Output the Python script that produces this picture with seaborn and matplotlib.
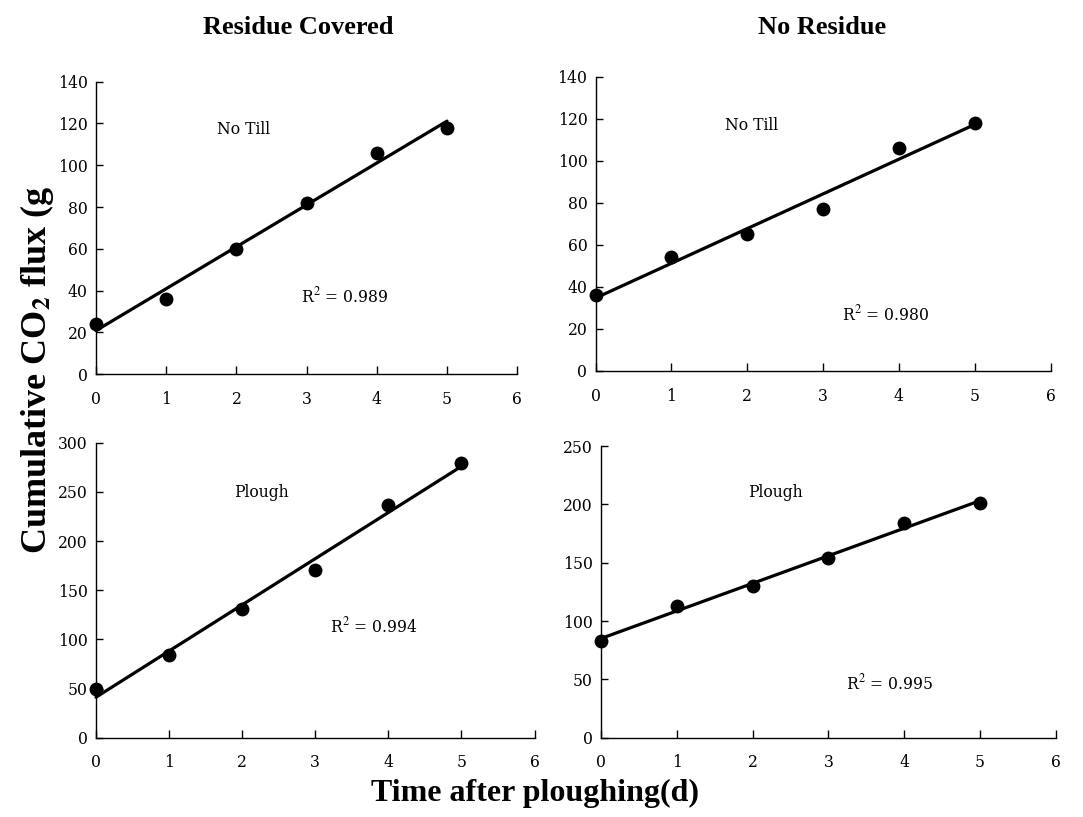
import matplotlib
matplotlib.use("Agg")
import matplotlib.pyplot as plt
import seaborn as sns
import pandas as pd

# ---- data ----
days = [0, 1, 2, 3, 4, 5]
rc_notill = [24, 36, 60, 82, 106, 118]
nr_notill = [36, 54, 65, 77, 106, 118]
rc_plough = [50, 84, 131, 171, 237, 279]
nr_plough = [83, 113, 130, 154, 184, 201]

col_titles = ["Residue Covered", "No Residue"]
panel_labels = ["No Till", "No Till", "Plough", "Plough"]
r2_labels = ["0.989", "0.980", "0.994", "0.995"]
x_ticks = [0, 1, 2, 3, 4, 5, 6]
y_ticks_top = [0, 20, 40, 60, 80, 100, 120, 140]
y_ticks_bl = [0, 50, 100, 150, 200, 250, 300]
y_ticks_br = [0, 50, 100, 150, 200, 250]

sns.set_style("white")
plt.rcParams['font.family'] = ['DejaVu Serif']
plt.rcParams['text.color'] = 'black'
plt.rcParams['axes.labelcolor'] = 'black'
plt.rcParams['xtick.color'] = 'black'
plt.rcParams['ytick.color'] = 'black'
plt.rcParams['mathtext.fontset'] = 'stix'

fig = plt.figure(figsize=(10.83, 8.17), dpi=100)

positions = [
    [0.0886, 0.542, 0.389, 0.358],
    [0.550, 0.546, 0.420, 0.360],
    [0.0886, 0.097, 0.405, 0.361],
    [0.555, 0.097, 0.420, 0.357],
]
series = [rc_notill, nr_notill, rc_plough, nr_plough]
yticks_list = [y_ticks_top, y_ticks_top, y_ticks_bl, y_ticks_br]
label_pos = [(2.1, 117), (2.06, 117), (2.27, 249), (2.3, 210)]
r2_pos = [(3.55, 37), (3.83, 27), (3.8, 113), (3.81, 47)]

tick_font = dict(family='DejaVu Serif', stretch='condensed', size=12.5, color='black')

for i in range(4):
    ax = fig.add_axes(positions[i])
    df = pd.DataFrame({"day": days, "flux": series[i]})
    sns.regplot(data=df, x="day", y="flux", ax=ax, ci=None, color="black",
                scatter_kws=dict(s=100, edgecolor="black", linewidths=0, alpha=1),
                line_kws=dict(lw=2.3))
    yt = yticks_list[i]
    ax.set_xlim(0, 6)
    ax.set_ylim(0, yt[-1])
    ax.set_xticks(x_ticks)
    ax.set_yticks(yt)
    ax.set_xticklabels([str(t) for t in x_ticks], fontdict=tick_font)
    ax.set_yticklabels([str(t) for t in yt], fontdict=tick_font)
    ax.set_xlabel("")
    ax.set_ylabel("")
    for s in ["top", "right"]:
        ax.spines[s].set_visible(False)
    for s in ["left", "bottom"]:
        ax.spines[s].set_color("black")
        ax.spines[s].set_linewidth(1.0)
    ax.tick_params(axis="x", bottom=True, direction="in", length=6, width=1, pad=12, colors="black")
    ax.tick_params(axis="y", left=True, direction="in", length=5, width=1, pad=6, colors="black")
    for c in ax.collections:
        c.set_clip_on(False)
    for l in ax.lines:
        l.set_clip_on(False)
    ax.text(label_pos[i][0], label_pos[i][1], panel_labels[i], ha="center", va="center",
            family='DejaVu Serif', stretch='condensed', size=12.5, color='black')
    ax.text(r2_pos[i][0], r2_pos[i][1], "R$^{2}$ = " + r2_labels[i], ha="center", va="center",
            family='DejaVu Serif', stretch='condensed', size=12.5, color='black')

fig.text(0.275, 0.966, col_titles[0], ha="center", va="center",
         family="Liberation Serif", weight="bold", size=19, color='black')
fig.text(0.759, 0.966, col_titles[1], ha="center", va="center",
         family="Liberation Serif", weight="bold", size=19, color='black')
fig.text(0.034, 0.547, r"Cumulative CO$_\mathbf{2}$ flux (g", rotation=90, ha="center", va="center",
         family="Liberation Serif", weight="bold", size=26, color='black')
fig.text(0.494, 0.029, "Time after ploughing(d)", ha="center", va="center",
         family="Liberation Serif", weight="bold", size=23, color='black')

fig.savefig("out.png", dpi=100, facecolor="white")
